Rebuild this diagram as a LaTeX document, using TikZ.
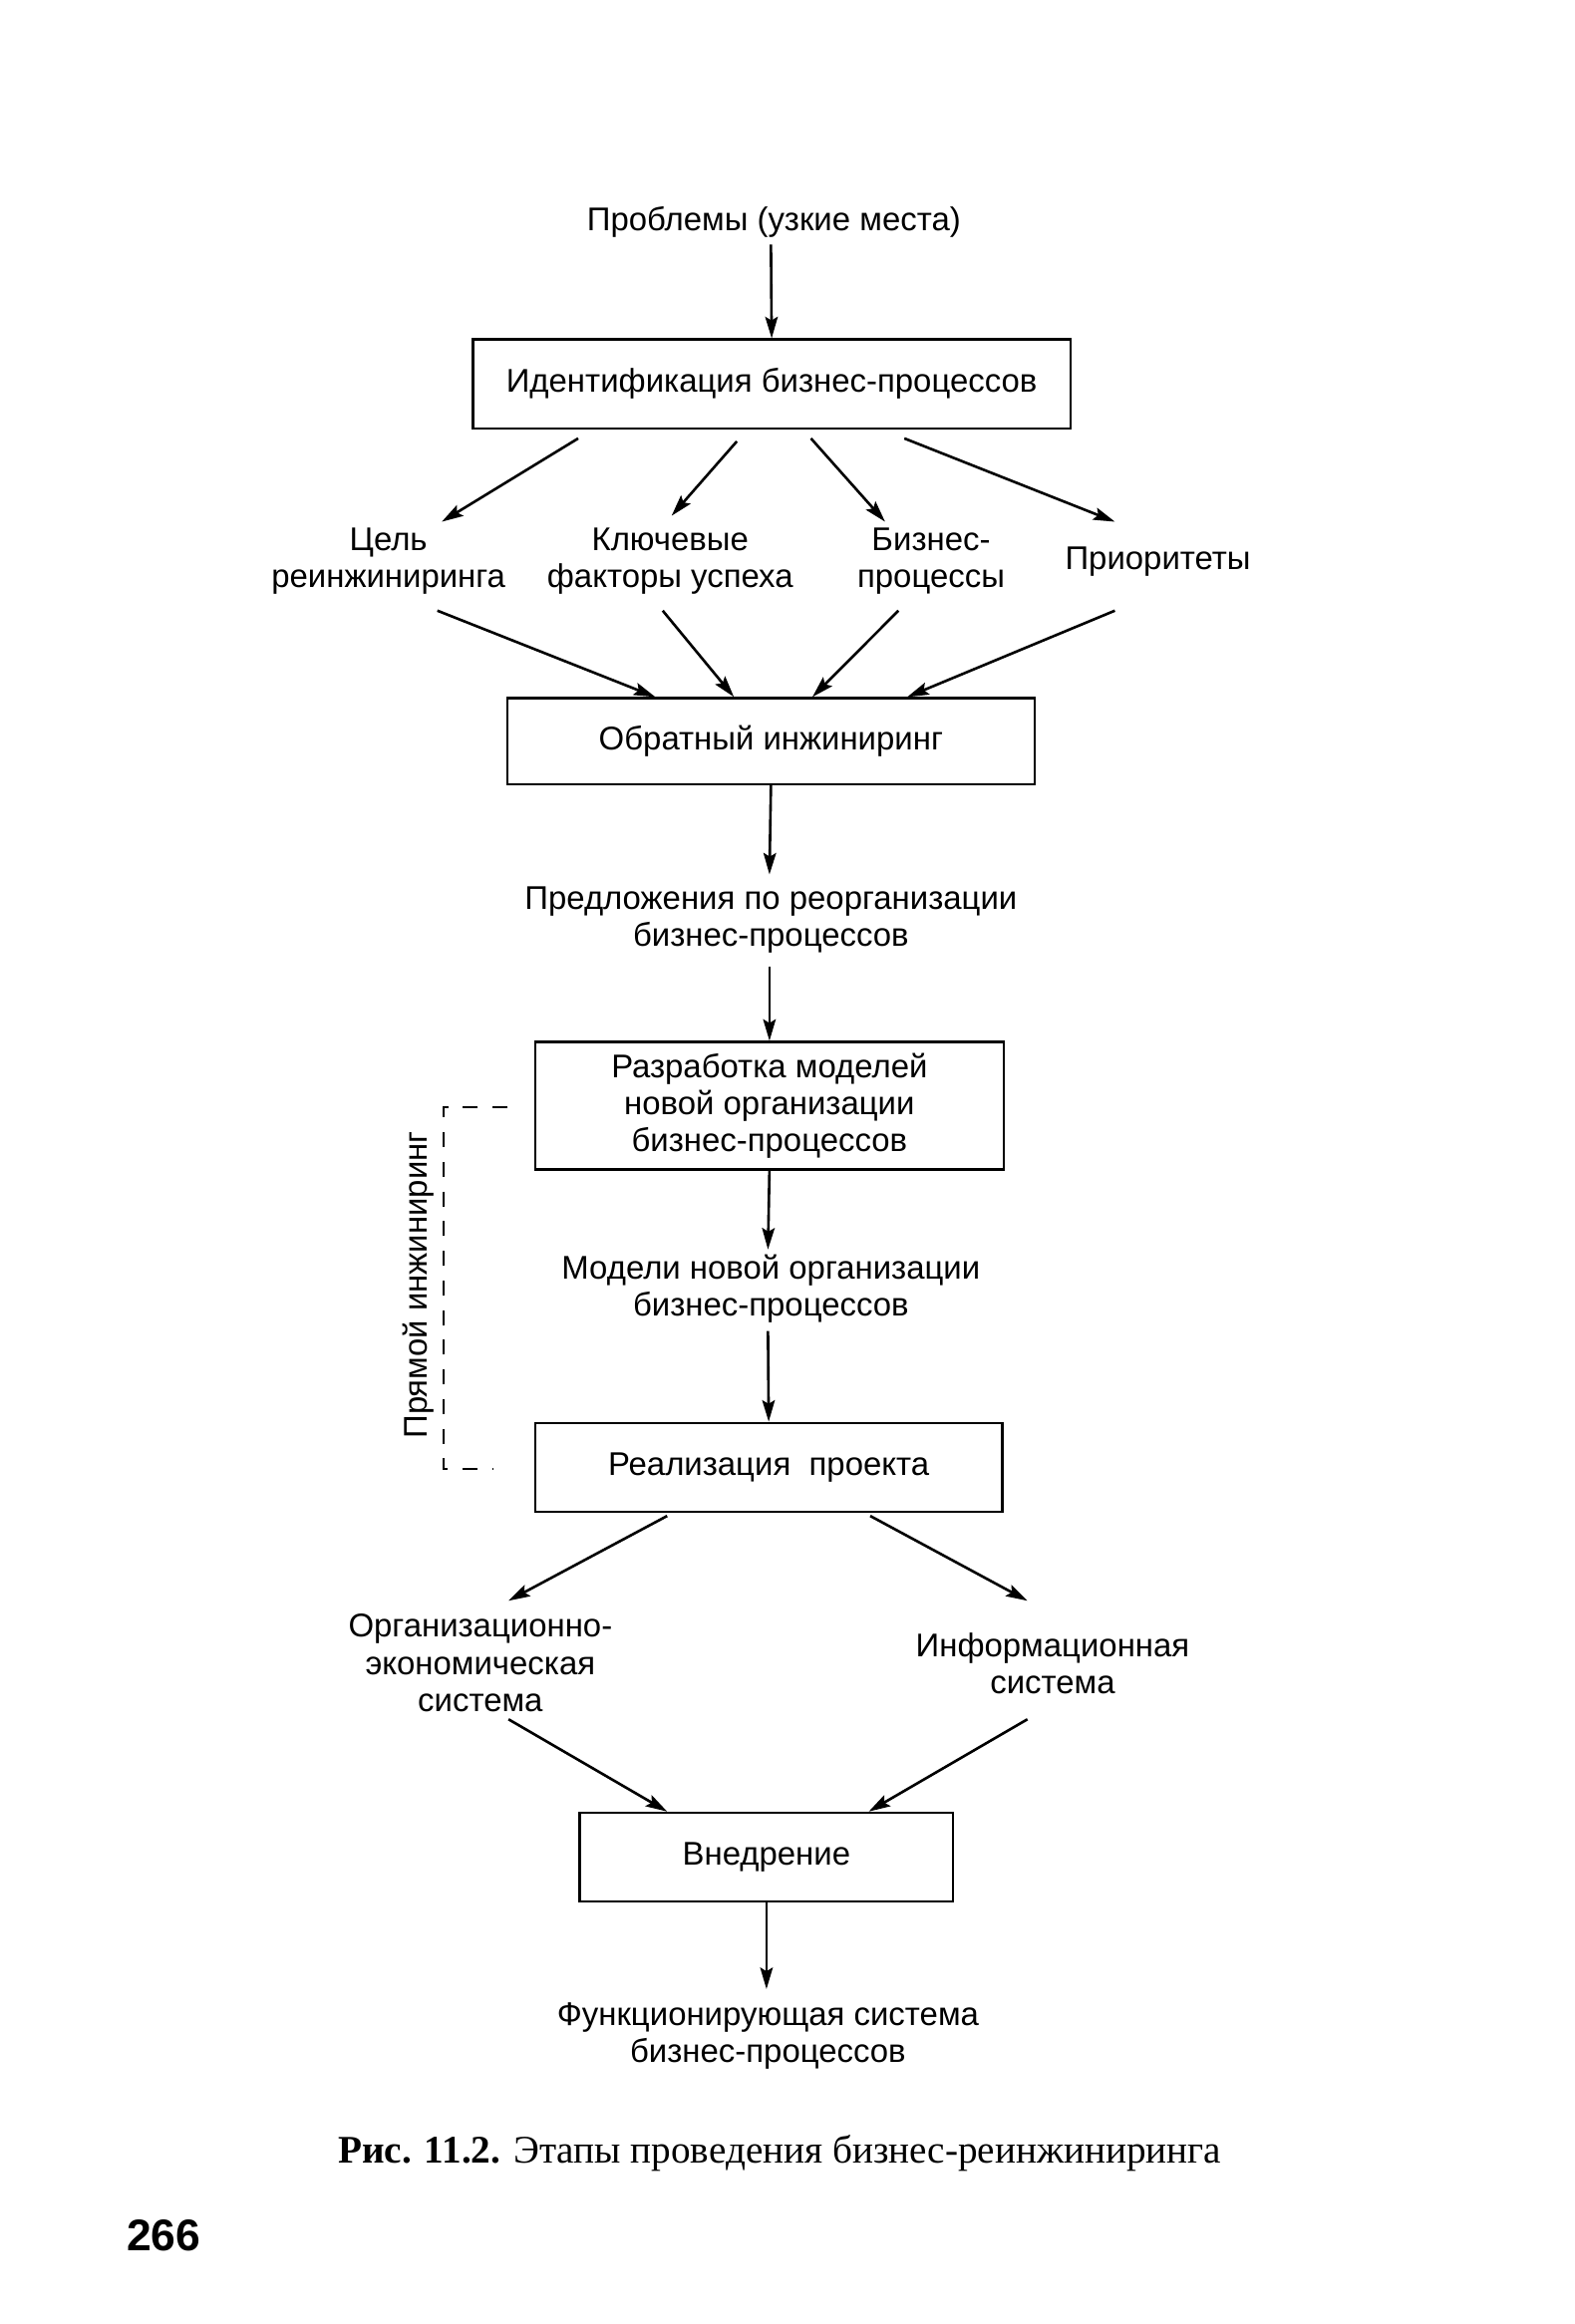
\documentclass[tikz,border=0pt]{standalone}
\usepackage{fontspec}
\setmainfont{Liberation Sans}
\newfontfamily\capfont{Liberation Serif}
\usetikzlibrary{arrows.meta}
\tikzset
{
    stage/.style    = {rectangle, draw=black, line width=0.9pt, align=center, minimum height=1.2cm, font=\fontsize{12.6}{14.2}\selectfont},
    textnode/.style = {align=center, inner sep=0pt, font=\fontsize{12.6}{14.2}\selectfont},
    arrow/.style    = {line width=1pt, -{Stealth[length=2.9mm,width=1.7mm,inset=0.5mm]}},
    fwdline/.style  = {line width=0.8pt, dash pattern=on 2mm off 2mm}
}

\begin{document}
\begin{tikzpicture}[x=0.02cm, y=-0.02cm]
\useasboundingbox (0,0) rectangle (1062,1568);
% upper part
\node(prob) [textnode] at (522,150) {Проблемы (узкие места)};
\node(ident) [stage, minimum width=8.06cm] at (520.5,259) {Идентификация бизнес-процессов};
\node(goal) [textnode] at (262,378.5) {Цель\\реинжиниринга};
\node(keyf) [textnode] at (452,378.5) {Ключевые\\факторы успеха};
\node(bproc) [textnode] at (628,378.5) {Бизнес-\\процессы};
\node(prior) [textnode] at (781,379) {Приоритеты};
\node(reveng) [stage, minimum width=7.12cm, minimum height=1.16cm] at (520,500) {Обратный инжиниринг};
\node(offer) [textnode] at (520,620.5) {Предложения по реорганизации\\бизнес-процессов};
% forward engineering
\node(design) [stage, minimum width=6.32cm, minimum height=1.72cm] at (519,746) {Разработка моделей\\новой организации\\бизнес-процессов};
\node(models) [textnode] at (520,869.5) {Модели новой организации\\бизнес-процессов};
\node(impl) [stage, minimum width=6.3cm] at (518.5,990) {Реализация\ \ проекта};
\node(fwd) [textnode, rotate=90] at (282,867) {Прямой инжиниринг};
% lower part
\node(orgsys) [textnode] at (324,1122) {Организационно-\\экономическая\\система};
\node(infsys) [textnode] at (710,1122.5) {Информационная\\система};
\node(deploy) [stage, minimum width=5.04cm] at (517,1253) {Внедрение};
\node(result) [textnode] at (518,1373.5) {Функционирующая система\\бизнес-процессов};
\node(figcap) [inner sep=0pt, font=\capfont\fontsize{15}{18}\selectfont] at (526,1453) {\textbf{Рис. 11.2.} Этапы проведения бизнес-реинжиниринга};
\node(pagenum) [inner sep=0pt, font=\fontsize{17}{20}\selectfont\bfseries] at (110.5,1508) {266};
% connectors
\draw[arrow] ([shift={(-2,15)}]prob.center) -- (ident.north);
\draw[arrow] ([shift={(-130.5,6)}]ident.south) -- ([shift={(36,-26.5)}]goal.center);
\draw[arrow] ([shift={(-23.5,8)}]ident.south) -- ([shift={(1,-30.5)}]keyf.center);
\draw[arrow] ([shift={(26.5,6)}]ident.south) -- ([shift={(-31,-26.5)}]bproc.center);
\draw[arrow] ([shift={(89.5,6)}]ident.south) -- ([shift={(-29,-27)}]prior.center);
\draw[arrow] ([shift={(33,33.5)}]goal.center) -- ([shift={(-78,0)}]reveng.north);
\draw[arrow] ([shift={(-5,33.5)}]keyf.center) -- ([shift={(-25,0)}]reveng.north);
\draw[arrow] ([shift={(-22,33.5)}]bproc.center) -- ([shift={(28,0)}]reveng.north);
\draw[arrow] ([shift={(-29,33)}]prior.center) -- ([shift={(92,0)}]reveng.north);
\draw[arrow] (reveng.south) -- ([shift={(-1,-30.5)}]offer.center);
\draw[arrow] ([shift={(-1,31.5)}]offer.center) -- (design.north);
\draw[arrow] (design.south) -- ([shift={(-2,-26.5)}]models.center);
\draw[arrow] ([shift={(-2,28.5)}]models.center) -- (impl.north);
\draw[fwdline] ([shift={(-18,1)}]design.west) -- ++(-43,0) |- ([shift={(-28,1)}]impl.west);
\draw[arrow] ([shift={(-68.5,2)}]impl.south) -- ([shift={(19,-42)}]orgsys.center);
\draw[arrow] ([shift={(68.5,2)}]impl.south) -- ([shift={(-17,-42.5)}]infsys.center);
\draw[arrow] ([shift={(19,38)}]orgsys.center) -- ([shift={(-67,0)}]deploy.north);
\draw[arrow] ([shift={(-17,37.5)}]infsys.center) -- ([shift={(69,0)}]deploy.north);
\draw[arrow] (deploy.south) -- ([shift={(-1,-31.5)}]result.center);
\end{tikzpicture}
\end{document}
